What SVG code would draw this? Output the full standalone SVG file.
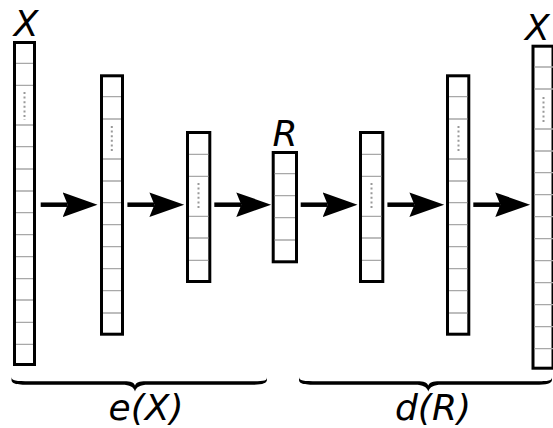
<svg xmlns="http://www.w3.org/2000/svg" width="553" height="428" viewBox="0 0 553 428">
<style>
.box{fill:#fff;stroke:#000;stroke-width:3}
.cell{stroke:#a8a8a8;stroke-width:1.3}
.dots{stroke:#999;stroke-width:2;stroke-dasharray:2 2.6}
.lbl{font-family:"DejaVu Sans",sans-serif;font-style:italic;font-size:36px;fill:#000}
.arr{stroke:#000;stroke-width:4.5;fill:none;marker-end:url(#head)}
.brace{fill:#000}
</style>
<defs>
<marker id="head" markerUnits="userSpaceOnUse" markerWidth="40" markerHeight="30" viewBox="0 -15 40 30" refX="5" refY="0" orient="auto">
<path d="M0,-12.3 L34.8,0 L0,12.3 L5,0 Z" fill="#000"/>
</marker>
</defs>
<rect width="553" height="428" fill="#fff"/>

<g id="col1">
<rect class="box" x="14.5" y="42.5" width="20" height="322"/>
<path class="cell" d="M16,63.3H33M16,85.3H33M16,125H33M16,146.7H33M16,169H33M16,191H33M16,212.7H33M16,234.7H33M16,256.7H33M16,278.7H33M16,300H33M16,322.3H33M16,344.3H33"/>
<path class="dots" d="M24.5,92V120"/>
<text class="lbl" x="26" y="36" text-anchor="middle">X</text>
</g>

<g id="col2">
<rect class="box" x="101.5" y="75.8" width="21" height="258.4"/>
<path class="cell" d="M103,96.7H121M103,119H121M103,159H121M103,181H121M103,202.7H121M103,224.7H121M103,246.7H121M103,268.7H121M103,290.7H121M103,313H121"/>
<path class="dots" d="M111.8,126V153"/>
</g>

<g id="col3">
<rect class="box" x="187.5" y="132.5" width="22.3" height="149"/>
<path class="cell" d="M189,154.3H208.3M189,176.3H208.3M189,216.3H208.3M189,238H208.3M189,260.3H208.3"/>
<path class="dots" d="M198.5,183V210"/>
</g>

<g id="colR">
<rect class="box" x="273.2" y="152.5" width="23.3" height="109.3"/>
<path class="cell" d="M274.7,173.7H295M274.7,195.7H295M274.7,217.7H295M274.7,240H295"/>
<text class="lbl" x="285" y="146" text-anchor="middle">R</text>
</g>

<g id="col5">
<rect class="box" x="360.5" y="132.5" width="22.3" height="149"/>
<path class="cell" d="M362,154.3H381.3M362,176.3H381.3M362,216.3H381.3M362,238H381.3M362,260.3H381.3"/>
<path class="dots" d="M371.5,183V210"/>
</g>

<g id="col6">
<rect class="box" x="447.5" y="75.8" width="21.3" height="258.4"/>
<path class="cell" d="M449,96.7H467.3M449,119H467.3M449,159H467.3M449,181H467.3M449,202.7H467.3M449,224.7H467.3M449,246.7H467.3M449,268.7H467.3M449,290.7H467.3M449,313H467.3"/>
<path class="dots" d="M458.5,126V153"/>
</g>

<g id="col7">
<rect class="box" x="533" y="46.2" width="20" height="322"/>
<path class="cell" d="M534.5,67H553M534.5,89H553M534.5,129H553M534.5,151H553M534.5,172.7H553M534.5,194.7H553M534.5,216.7H553M534.5,238.7H553M534.5,260.7H553M534.5,282.7H553M534.5,304.7H553M534.5,326.7H553M534.5,348.7H553"/>
<path class="dots" d="M543.5,97V123"/>
<text class="lbl" x="525" y="40">X</text>
</g>

<g id="connectors">
<path class="arr" d="M40.7,204.7H67.7"/>
<path class="arr" d="M127.4,204.7H154.4"/>
<path class="arr" d="M214.3,204.7H241.3"/>
<path class="arr" d="M300.7,204.7H327.7"/>
<path class="arr" d="M387.4,204.7H414.4"/>
<path class="arr" d="M473.3,204.7H500.3"/>
</g>

<g id="braceE">
<path class="brace" d="M11.5,377 C11.5,381 16,381.2 30,381.2 L124,381.2 C131,381.2 134,382.5 135,385.5 C136,382.5 139,381.2 146,381.2 L250,381.2 C264,381.2 267,381 267,377 L267,379.5 C267,383.5 262,384.8 250,384.8 L148,384.8 C140,384.8 136.5,387 135,391.5 C133.5,387 130,384.8 122,384.8 L30,384.8 C15,384.8 11.5,383.5 11.5,379.5 Z"/>
<text class="lbl" x="146" y="420" text-anchor="middle">e(X)</text>
</g>

<g id="braceD">
<path class="brace" d="M299,377 C299,381 303.5,381.2 317.5,381.2 L417,381.2 C424,381.2 427,382.5 428.3,385.5 C429.5,382.5 432.5,381.2 439.5,381.2 L535,381.2 C549,381.2 552,381 552,377 L552,379.5 C552,383.5 547,384.8 535,384.8 L441.5,384.8 C433.5,384.8 430,387 428.3,391.5 C426.7,387 423,384.8 415,384.8 L317.5,384.8 C302.5,384.8 299,383.5 299,379.5 Z"/>
<text class="lbl" x="433" y="420" text-anchor="middle">d(R)</text>
</g>
</svg>
